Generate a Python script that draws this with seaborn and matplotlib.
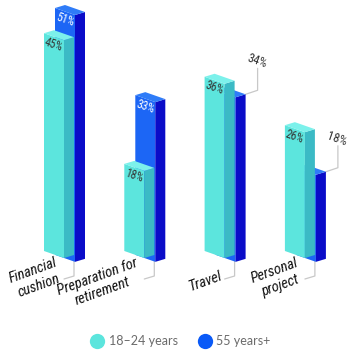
import numpy as np
import pandas as pd
import matplotlib
matplotlib.use("Agg")
import matplotlib.pyplot as plt
from matplotlib import font_manager as fm
from matplotlib.patches import Polygon
from matplotlib.lines import Line2D
from matplotlib.transforms import Affine2D
import seaborn as sns

# ---- data ----
categories = ["Financial\ncushion", "Preparation for\nretirement", "Travel", "Personal\nproject"]
young = [45, 18, 36, 26]      # 18–24 years
senior = [51, 33, 34, 18]     # 55 years+
series_names = ["18–24 years", "55 years+"]

# ---- styling ----
TEAL = {"front": "#5ce5dd", "side": "#3bbac5", "top": "#7cf1eb"}
BLUE = {"front": "#1c66f5", "side": "#0a0cc8", "top": "#2f7cf8"}
LEGEND_COLORS = ["#5ce5dd", "#0a5af7"]


def narrow_font():
    """Pick the narrowest installed sans family for the labels."""
    names = {f.name for f in fm.fontManager.ttflist}
    for cand in ["Liberation Sans Narrow", "Roboto Condensed", "Noto Sans Condensed",
                 "Open Sans Condensed", "Arial Narrow"]:
        if cand in names:
            return dict(family=[cand, "DejaVu Sans"])
    for f in fm.fontManager.ttflist:
        if f.name == "DejaVu Sans" and "condensed" in str(f.stretch).lower():
            return dict(family=["DejaVu Sans"], fontstretch="condensed")
    return dict(family=["Roboto", "DejaVu Sans"])


NARROW = narrow_font()

sns.set_theme(style="white")
plt.rcParams["font.family"] = ["Lato", "DejaVu Sans"]

W = H = 350
fig = plt.figure(figsize=(3.5, 3.5), dpi=100)
ax = fig.add_axes([0, 0, 1, 1])

# pixel scales of the axes
SX = 80.3          # px per category unit
SY = 4.84          # px per percent
X0_PX = 54         # centre of first group in px
BASE_PX = 99       # baseline height from bottom in px

BAR_W = 20 / SX                 # front face width
K = (7 / SY) / BAR_W            # downward slope of the front face (percent per unit)
DX, DZ = 10 / SX, 3 / SY        # depth vector of the boxes
OFF = 11 / SX                   # second series shift along the front


def px(dx, dy):
    """Pixel offset -> data offset (dy positive = up)."""
    return dx / SX, dy / SY


df_y = pd.DataFrame({"category": categories, "value": young})
df_s = pd.DataFrame({"category": categories, "value": senior})

# front faces drawn as seaborn bars; back series first so the front series overlaps it
sns.barplot(data=df_s, x="category", y="value", color=BLUE["front"], width=BAR_W,
            linewidth=0, edgecolor="none", saturation=1, ax=ax, zorder=2)
n_back = len(ax.patches)
sns.barplot(data=df_y, x="category", y="value", color=TEAL["front"], width=BAR_W,
            linewidth=0, edgecolor="none", saturation=1, ax=ax, zorder=3)
ax.set_xlim(-X0_PX / SX, (W - X0_PX) / SX)
ax.set_ylim(-BASE_PX / SY, (H - BASE_PX) / SY)


def point(xl, a, d, z):
    return (xl + a + d * DX, z - K * a + d * DZ)


bars = []
for i, patch in enumerate(ax.patches):
    back = i < n_back
    xl = patch.get_x()
    h = patch.get_height()
    off = OFF if back else 0.0
    pal = BLUE if back else TEAL
    z = 2 if back else 3
    # shear the rectangle into the slanted front face
    m = np.array([[1, 0, off], [-K, 1, K * xl - K * off], [0, 0, 1]])
    patch.set_transform(Affine2D(m) + ax.transData)
    a_l, a_r = off, off + patch.get_width()
    side = [point(xl, a_r, 0, 0), point(xl, a_r, 1, 0), point(xl, a_r, 1, h), point(xl, a_r, 0, h)]
    top = [point(xl, a_l, 0, h), point(xl, a_r, 0, h), point(xl, a_r, 1, h), point(xl, a_l, 1, h)]
    ax.add_patch(Polygon(side, closed=True, facecolor=pal["side"], edgecolor="none", zorder=z))
    ax.add_patch(Polygon(top, closed=True, facecolor=pal["top"], edgecolor="none", zorder=z))
    bars.append(dict(xl=xl, a_l=a_l, a_r=a_r, h=h))

back_bars = bars[:n_back]
front_bars = bars[n_back:]
ROT = -np.degrees(np.arctan(7 / 20))
LINE = dict(color="#c8c8c8", lw=0.9, zorder=1)

for j, (fb, bb) in enumerate(zip(front_bars, back_bars)):
    # value label of the front series, on its face
    cx, cy = point(fb["xl"], (fb["a_l"] + fb["a_r"]) / 2, 0, fb["h"])
    ax.text(cx, cy - 8 / SY, f"{young[j]}%", ha="center", va="center", rotation=ROT,
            rotation_mode="anchor", fontsize=8.3, color="#333333", zorder=5, **NARROW)
    # value label of the back series: on its face when visible, else with a leader
    if senior[j] - young[j] >= 5:
        cx, cy = point(bb["xl"], (bb["a_l"] + bb["a_r"]) / 2, 0, bb["h"])
        ax.text(cx, cy - 8 / SY, f"{senior[j]}%", ha="center", va="center", rotation=ROT,
                rotation_mode="anchor", fontsize=8.3, color="white", zorder=5, **NARROW)
    else:
        sx0, sy0 = point(bb["xl"], bb["a_r"], 1, bb["h"])
        ddx, ddy = px(12, 4)
        sx1, sy1 = sx0 + ddx, sy0 + ddy
        sy2 = sy1 + 22 / SY
        ax.plot([sx0, sx1, sx1], [sy0, sy1, sy2], **LINE)
        ax.text(sx1 - 1 / SX, sy2 + 7 / SY, f"{senior[j]}%", ha="center", va="center",
                rotation=ROT, rotation_mode="anchor", fontsize=9, color="#333333",
                zorder=5, **NARROW)
    # category label with leader from the base of the front box
    lx0, ly0 = point(fb["xl"], fb["a_r"], 1, 0)
    ly1 = ly0 - 21 / SY
    ddx, ddy = px(-10, -3)
    lx2, ly2 = lx0 + ddx, ly1 + ddy
    ax.plot([lx0, lx0, lx2], [ly0, ly1, ly2], **LINE)
    ax.text(lx2 - 1 / SX, ly2, categories[j], ha="right", va="baseline", ma="center",
            rotation=20, rotation_mode="anchor", fontsize=10.5, style="italic",
            color="#111111", linespacing=1.2, zorder=5, **NARROW)

ax.set_axis_off()

handles = [Line2D([], [], marker="o", linestyle="none", markersize=11,
                  markerfacecolor=c, markeredgecolor="none") for c in LEGEND_COLORS]
fig.legend(handles, series_names, loc="center", bbox_to_anchor=(0.515, 0.026),
           ncol=2, frameon=False, fontsize=9, labelcolor="#6b6b6b",
           handletextpad=0.3, columnspacing=1.6, handlelength=1.2)

fig.savefig("out.png", dpi=100)
